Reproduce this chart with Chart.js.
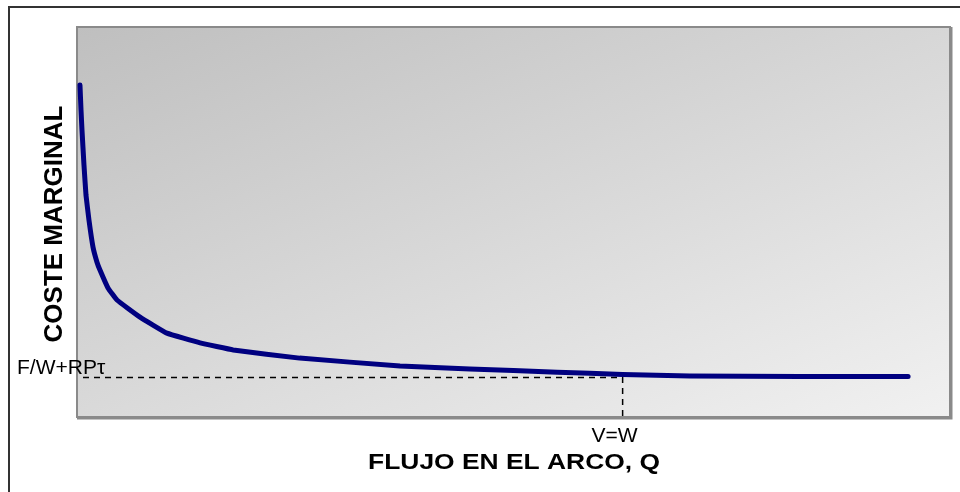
<!DOCTYPE html>
<html>
<head>
<meta charset="utf-8">
<script src="https://cdn.jsdelivr.net/npm/chart.js@4/dist/chart.umd.min.js"></script>
<style>
  html, body { margin: 0; padding: 0; background: #fff; }
  #wrap { width: 960px; height: 492px; }
</style>
</head>
<body>
<div id="wrap"><canvas id="chart"></canvas></div>
<script>
// flujo en el arco (eje x) y coste marginal (eje y), unidades relativas 0-100
const flujo = [0.34, 0.46, 0.57, 0.8, 1.03, 1.37, 1.83, 2.29, 2.63, 3.55, 4.58, 7.22, 10.3, 14.1, 17.9, 25.5, 37.0, 45.0, 55.0, 62.5, 70.2, 82.8, 95.2];
const coste = [85.1, 78.7, 73.6, 64.6, 56.9, 50.5, 43.6, 39.7, 37.7, 33.1, 30.0, 25.6, 21.5, 19.0, 17.2, 15.1, 13.1, 12.3, 11.5, 10.9, 10.5, 10.4, 10.4];

// referencias punteadas
const refCoste = 10.1;   // F/W+RPτ
const refFlujo = 62.5;   // V=W
const refCosteLabel = 'F/W+RPτ';
const refFlujoLabel = 'V=W';
const xTitle = 'FLUJO EN EL ARCO, Q';
const yTitle = 'COSTE MARGINAL';

const fondo = {
  id: 'fondo',
  beforeDraw(chart) {
    const { ctx, chartArea: a } = chart;
    ctx.save();
    // marco exterior
    ctx.strokeStyle = '#333';
    ctx.lineWidth = 2;
    ctx.strokeRect(9, 7, 980, 520);
    // area del grafico con degradado (mas fuerte en vertical)
    const g = ctx.createLinearGradient(a.left, a.top, a.left + 257, a.top + 638);
    g.addColorStop(0, '#bfbfbf');
    g.addColorStop(1, '#f1f1f1');
    ctx.fillStyle = g;
    ctx.fillRect(a.left, a.top, a.right - a.left, a.bottom - a.top);
    ctx.strokeStyle = '#8a8a8a';
    ctx.lineWidth = 2;
    ctx.strokeRect(a.left, a.top, a.right - a.left, a.bottom - a.top);
    ctx.beginPath();
    ctx.lineWidth = 2;
    ctx.moveTo(a.right + 1.5, a.top);
    ctx.lineTo(a.right + 1.5, a.bottom + 1.5);
    ctx.lineTo(a.left, a.bottom + 1.5);
    ctx.stroke();

    // lineas punteadas
    const x = chart.scales.x, y = chart.scales.y;
    const px = x.getPixelForValue(refFlujo);
    const py = y.getPixelForValue(refCoste);
    ctx.strokeStyle = '#000';
    ctx.lineWidth = 1.5;
    ctx.setLineDash([6, 5]);
    ctx.beginPath();
    ctx.moveTo(a.left + 6, py);
    ctx.lineTo(px, py);
    ctx.lineTo(px, a.bottom + 4);
    ctx.stroke();
    ctx.setLineDash([]);

    // textos
    ctx.fillStyle = '#000';
    ctx.font = '21px "Liberation Sans", Arial, sans-serif';
    ctx.textAlign = 'left';
    ctx.textBaseline = 'alphabetic';
    ctx.fillText(refCosteLabel, 17, py - 4);
    ctx.textAlign = 'center';
    ctx.fillText(refFlujoLabel, px - 8, a.bottom + 25);

    ctx.font = 'bold 22px "Liberation Sans", Arial, sans-serif';
    ctx.save();
    ctx.translate(514, 469);
    ctx.scale(1.2, 1);
    ctx.fillText(xTitle, 0, 0);
    ctx.restore();

    ctx.save();
    ctx.translate(62, 224);
    ctx.rotate(-Math.PI / 2);
    ctx.font = 'bold 26px "Liberation Sans", Arial, sans-serif';
    ctx.fillText(yTitle, 0, 0);
    ctx.restore();
    ctx.restore();
  }
};

new Chart(document.getElementById('chart'), {
  type: 'line',
  data: {
    datasets: [{
      data: flujo.map((v, i) => ({ x: v, y: coste[i] })),
      borderColor: '#000080',
      borderWidth: 5,
      borderCapStyle: 'round',
      borderJoinStyle: 'round',
      pointRadius: 0,
      tension: 0.1,
      clip: false
    }]
  },
  options: {
    responsive: true,
    maintainAspectRatio: false,
    animation: false,
    layout: { padding: { left: 77, top: 27, right: 10, bottom: 75 } },
    plugins: { legend: { display: false }, tooltip: { enabled: false } },
    scales: {
      x: { type: 'linear', min: 0, max: 100, display: false },
      y: { type: 'linear', min: 0, max: 100, display: false }
    }
  },
  plugins: [fondo]
});
</script>
</body>
</html>
